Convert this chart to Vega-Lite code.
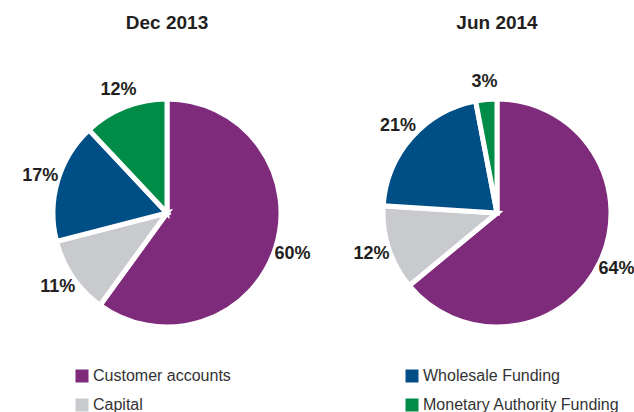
{
  "$schema": "https://vega.github.io/schema/vega-lite/v6.json",
  "padding": {"left": 12, "top": 14, "right": 0, "bottom": 0},
  "data": {"values": [
    {"period": "Dec 2013", "category": "Customer accounts", "value": 0.60, "idx": 1},
    {"period": "Dec 2013", "category": "Capital", "value": 0.11, "idx": 2},
    {"period": "Dec 2013", "category": "Wholesale Funding", "value": 0.17, "idx": 3},
    {"period": "Dec 2013", "category": "Monetary Authority Funding", "value": 0.12, "idx": 4},
    {"period": "Jun 2014", "category": "Customer accounts", "value": 0.64, "idx": 1},
    {"period": "Jun 2014", "category": "Capital", "value": 0.12, "idx": 2},
    {"period": "Jun 2014", "category": "Wholesale Funding", "value": 0.21, "idx": 3},
    {"period": "Jun 2014", "category": "Monetary Authority Funding", "value": 0.03, "idx": 4}
  ]},
  "facet": {
    "column": {
      "field": "period", "type": "nominal", "sort": ["Dec 2013", "Jun 2014"],
      "header": {"title": null, "labelFontSize": 19, "labelFontWeight": "bold", "labelColor": "#231f20", "labelFont": "Liberation Sans", "labelPadding": 30}
    }
  },
  "spacing": 20,
  "spec": {
    "width": 310,
    "height": 300,
    "layer": [
      {
        "mark": {"type": "arc", "outerRadius": 114, "stroke": "white", "strokeWidth": 5},
        "encoding": {
          "theta": {"field": "value", "type": "quantitative", "stack": true},
          "order": {"field": "idx", "type": "quantitative"},
          "color": {
            "field": "category", "type": "nominal",
            "scale": {
              "domain": ["Customer accounts", "Capital", "Wholesale Funding", "Monetary Authority Funding"],
              "range": ["#7f2b7b", "#c9cacd", "#004e86", "#008c46"]
            },
            "legend": {
              "orient": "none", "legendX": 62, "legendY": 305, "columns": 2, "columnPadding": 173, "rowPadding": 13,
              "title": null, "symbolType": "square", "symbolSize": 169, "symbolStrokeWidth": 0, "labelLimit": 400,
              "labelFontSize": 16, "labelFont": "Liberation Sans", "labelColor": "#333333", "labelOffset": 3
            }
          }
        }
      },
      {
        "mark": {"type": "text", "radius": 132, "fontSize": 18, "fontWeight": "bold", "font": "Liberation Sans", "color": "#231f20"},
        "encoding": {
          "theta": {"field": "value", "type": "quantitative", "stack": true},
          "order": {"field": "idx", "type": "quantitative"},
          "detail": {"field": "category", "type": "nominal"},
          "text": {"field": "value", "type": "quantitative", "format": ".0%"}
        }
      }
    ]
  },
  "config": {"view": {"stroke": null}}
}
